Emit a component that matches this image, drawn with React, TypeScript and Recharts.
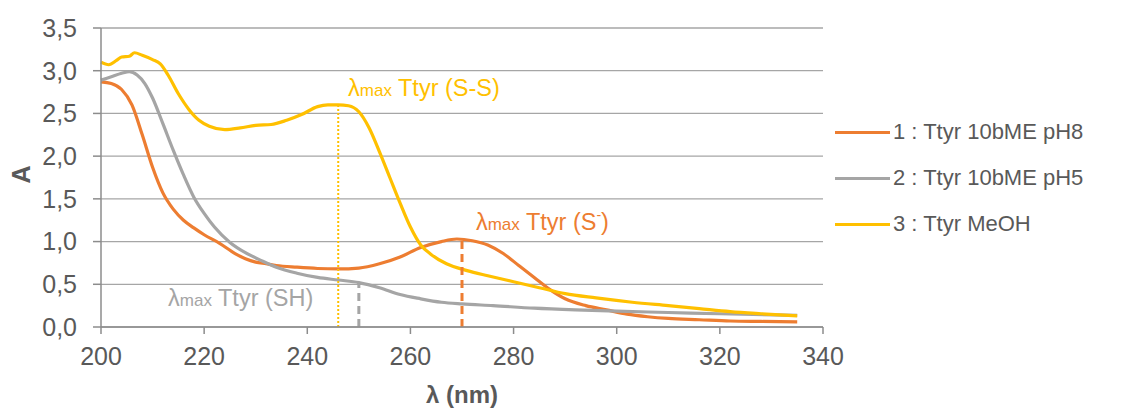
import { LineChart, Line, XAxis, YAxis, CartesianGrid, ReferenceLine, ReferenceDot } from 'recharts'

// wavelength (nm) / absorbance
const ph8Wl = [200, 202, 204, 206, 208, 210, 212, 214, 216, 218, 220, 223, 226, 228, 230, 232, 234, 238, 242, 246, 250, 254, 258, 262, 266, 269, 272, 275, 278, 281, 284, 287, 290, 294, 298, 302, 306, 310, 316, 322, 328, 335]
const ph8Abs = [2.87, 2.85, 2.78, 2.6, 2.25, 1.87, 1.57, 1.38, 1.25, 1.16, 1.08, 0.98, 0.86, 0.8, 0.76, 0.74, 0.72, 0.7, 0.685, 0.68, 0.69, 0.74, 0.82, 0.93, 1.0, 1.03, 1.01, 0.96, 0.86, 0.72, 0.58, 0.44, 0.33, 0.25, 0.2, 0.15, 0.12, 0.1, 0.085, 0.07, 0.065, 0.06]

const ph5Wl = [200, 202, 204, 205.5, 207, 208.5, 210, 212, 214, 216, 218, 220, 222, 225, 228, 231, 234, 238, 242, 246, 250, 254, 258, 262, 266, 270, 276, 284, 292, 300, 310, 320, 335]
const ph5Abs = [2.89, 2.93, 2.97, 2.99, 2.95, 2.85, 2.68, 2.38, 2.07, 1.78, 1.52, 1.33, 1.17, 0.99, 0.87, 0.78, 0.7, 0.63, 0.58, 0.55, 0.52, 0.46, 0.38, 0.33, 0.29, 0.27, 0.25, 0.22, 0.2, 0.185, 0.17, 0.155, 0.135]

const meohWl = [200, 201.5, 203, 204, 205.5, 206.5, 208, 210, 211.5, 213, 215, 217, 219, 221, 224, 227, 230, 233, 236, 239, 242, 244, 246, 248, 250, 252, 254, 256, 258, 260, 262, 264, 267, 271, 275, 280, 285, 290, 296, 303, 310, 316, 322, 328, 335]
const meohAbs = [3.1, 3.07, 3.12, 3.16, 3.17, 3.21, 3.18, 3.13, 3.08, 2.95, 2.73, 2.55, 2.42, 2.35, 2.31, 2.33, 2.36, 2.37, 2.42, 2.49, 2.58, 2.6, 2.6, 2.59, 2.52, 2.33, 2.05, 1.75, 1.45, 1.17, 0.96, 0.85, 0.74, 0.66, 0.6, 0.53, 0.46, 0.39, 0.34, 0.29, 0.25, 0.215, 0.18, 0.155, 0.13]

const xTicks = [200, 220, 240, 260, 280, 300, 320, 340]
const yTicks = [0, 0.5, 1, 1.5, 2, 2.5, 3, 3.5]

const seriesNames = ['1 : Ttyr 10bME pH8', '2 : Ttyr 10bME pH5', '3 : Ttyr MeOH']
const colors = ['#ED7D31', '#A5A5A5', '#FFC000']

// lambda max markers: [wavelength, height]
const lmaxSH = [250, 0.52]
const lmaxSS = [246, 2.59]
const lmaxS = [270, 1.02]

const toPoints = (wl: number[], abs: number[]) => wl.map((x, i) => ({ x, y: abs[i] }))

const series = [
  toPoints(ph8Wl, ph8Abs),
  toPoints(ph5Wl, ph5Abs),
  toPoints(meohWl, meohAbs),
]

const font = 'Liberation Sans, Arial, sans-serif'

function LmaxLabel({ viewBox, color, tag, sup }: any) {
  const x = viewBox.x
  const y = viewBox.y
  return (
    <text x={x} y={y} fill={color} fontFamily={font} fontSize={23.5}>
      λ<tspan fontSize={17}>max</tspan> Ttyr ({tag}
      {sup ? <tspan fontSize={14} dy={-10}>{sup}</tspan> : null}
      {sup ? <tspan dy={10}>)</tspan> : ')'}
    </text>
  )
}

function XTitle({ viewBox }: any) {
  return (
    <text x={viewBox.x + viewBox.width / 2} y={403} textAnchor="middle" fill="#595959" fontFamily={font} fontSize={24} fontWeight="bold">
      λ (nm)
    </text>
  )
}

function YTitle({ viewBox }: any) {
  const cy = viewBox.y + viewBox.height / 2 - 3
  return (
    <text x={30} y={cy} textAnchor="middle" transform={`rotate(-90 30 ${cy})`} fill="#595959" fontFamily={font} fontSize={25} fontWeight="bold">
      A
    </text>
  )
}

export default function App() {
  return (
    <div style={{ position: 'absolute', left: 0, top: 0, width: 1126, height: 409, background: '#fff' }}>
      <LineChart width={1126} height={409} margin={{ top: 28, right: 303, left: 41, bottom: 52 }}>
        <CartesianGrid vertical={false} stroke="#a6a6a6" strokeWidth={1.3} />
        <XAxis
          type="number"
          dataKey="x"
          domain={[200, 340]}
          ticks={xTicks}
          interval={0}
          height={30}
          stroke="#8c8c8c"
          strokeWidth={1.5}
          tickSize={7}
          tickMargin={13}
          tick={{ fill: '#595959', fontSize: 25, fontFamily: font }}
          label={<XTitle />}
        />
        <YAxis
          type="number"
          domain={[0, 3.5]}
          ticks={yTicks}
          interval={0}
          width={60}
          stroke="#8c8c8c"
          strokeWidth={1.5}
          tickSize={8}
          tickMargin={16}
          tickFormatter={(v: number) => v.toFixed(1).replace('.', ',')}
          tick={{ fill: '#595959', fontSize: 25, fontFamily: font }}
          label={<YTitle />}
        />
        {series.map((d, i) => (
          <Line
            key={seriesNames[i]}
            data={d}
            dataKey="y"
            name={seriesNames[i]}
            type="monotone"
            stroke={colors[i]}
            strokeWidth={3.2}
            dot={false}
            isAnimationActive={false}
          />
        ))}
        <ReferenceLine segment={[{ x: lmaxSH[0], y: 0 }, { x: lmaxSH[0], y: lmaxSH[1] }]} stroke="#A5A5A5" strokeWidth={3} strokeDasharray="8 5" />
        <ReferenceLine segment={[{ x: lmaxSS[0], y: 0 }, { x: lmaxSS[0], y: lmaxSS[1] }]} stroke="#FFC000" strokeWidth={2} strokeDasharray="2 2" />
        <ReferenceLine segment={[{ x: lmaxS[0], y: 0 }, { x: lmaxS[0], y: lmaxS[1] }]} stroke="#ED7D31" strokeWidth={3} strokeDasharray="8 5" />
        <ReferenceDot x={213} y={0.24} r={0} fill="none" stroke="none" label={<LmaxLabel color="#A5A5A5" tag="SH" />} />
        <ReferenceDot x={247.9} y={2.7} r={0} fill="none" stroke="none" label={<LmaxLabel color="#FFC000" tag="S-S" />} />
        <ReferenceDot x={272.7} y={1.13} r={0} fill="none" stroke="none" label={<LmaxLabel color="#ED7D31" tag="S" sup="-" />} />
      </LineChart>
      <div style={{ position: 'absolute', left: 835, top: 109, fontFamily: font, fontSize: 22, color: '#595959' }}>
        {seriesNames.map((n, i) => (
          <div key={n} style={{ display: 'flex', alignItems: 'center', height: 46 }}>
            <span style={{ display: 'inline-block', width: 55, height: 3, background: colors[i], marginRight: 3 }} />
            {n}
          </div>
        ))}
      </div>
    </div>
  )
}
